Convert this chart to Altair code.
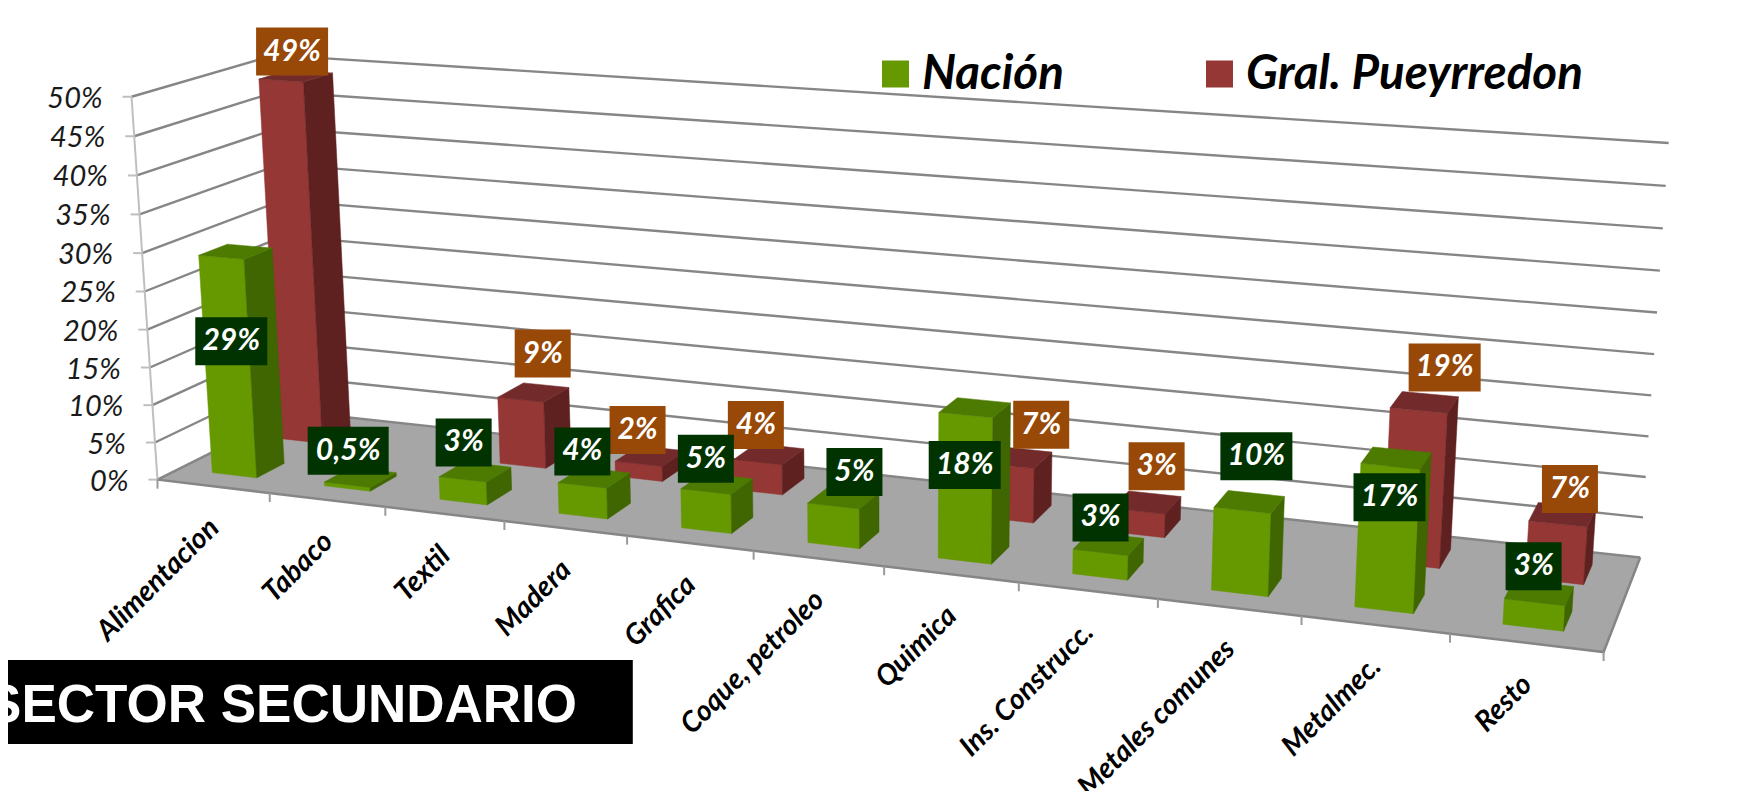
import altair as alt
import numpy as np
import pandas as pd

# ---------- data ----------
categories = ["Alimentacion", "Tabaco", "Textil", "Madera", "Grafica", "Coque, petroleo",
              "Quimica", "Ins. Construcc.", "Metales comunes", "Metalmec.", "Resto"]
nacion = [29, 0.5, 3, 4, 5, 5, 18, 3, 10, 17, 3]
nacion_text = ["29%", "0,5%", "3%", "4%", "5%", "5%", "18%", "3%", "10%", "17%", "3%"]
pueyrredon = [49, None, 9, 2, 4, None, 7, 3, None, 19, 7]
pueyrredon_text = ["49%", None, "9%", "2%", "4%", None, "7%", "3%", None, "19%", "7%"]
y_ticks = [0, 5, 10, 15, 20, 25, 30, 35, 40, 45, 50]

# ---------- layout (not data) ----------
W, H = 1734, 783
FONT = "Lato"
GREEN = ("#669900", "#3F6600", "#4D7A00")
RED = ("#953735", "#5E2120", "#722A2A")
ROWS = {"n": (0.15, 0.35), "p": (0.64, 0.86)}
BAR_U = (0.30, 0.70)
# label offsets from the top-front centre of each bar
n_off = [(10, 84), (1, -34), (1, -37), (0, -34), (0, -33), (21, -34), (-1, 50), (0, -35), (14, -54), (-1, 31), (-1, -36)]
p_off = [(11, -29), None, (22, -46), (-1, -34), (-2, -37), None, (33, -41), (18, -45), None, (26, -43), (12, -35)]

# camera calibration: (category position, depth, percent) -> picture position
calib = [
    ((0, 0, 0), (157.7, 479)), ((0, 0, 50), (131.7, 96)),
    ((0, 1, 0), (293.6, 412)), ((0, 1, 50), (274, 55.8)),
    ((11, 1, 0), (1640.5, 556)), ((11, 1, 50), (1668.7, 143)),
    ((11, 0, 0), (1603, 653)), ((5, 0, 0), (754, 552)),
    ((2, 0, 0), (385, 506)), ((8, 0, 0), (1158, 599)),
]
A, b = [], []
for (u, d, z), (px, py) in calib:
    A.append([u, d, z, 1, 0, 0, 0, 0, -px * u, -px * d, -px * z]); b.append(px)
    A.append([0, 0, 0, 0, u, d, z, 1, -py * u, -py * d, -py * z]); b.append(py)
P = np.linalg.lstsq(np.array(A, float), np.array(b, float), rcond=None)[0]


def proj(u, d, z):
    w = P[8] * u + P[9] * d + P[10] * z + 1
    return (float((P[0] * u + P[1] * d + P[2] * z + P[3]) / w),
            float((P[4] * u + P[5] * d + P[6] * z + P[7]) / w))


def poly_rows(pid, pts):
    return [{"pid": pid, "i": k, "px": proj(*p)[0], "py": proj(*p)[1]} for k, p in enumerate(pts)]


xs = alt.Scale(domain=[8, 8 + W], nice=False, zero=False)
ys = alt.Scale(domain=[8 + H, 8], nice=False, zero=False)
X = alt.X("px:Q", scale=xs, axis=None)
Y = alt.Y("py:Q", scale=ys, axis=None)


def polys(rows, color):
    return alt.Chart(pd.DataFrame(rows)).mark_line(
        interpolate="linear-closed", fill=color, stroke=color, strokeWidth=0.5, clip=True
    ).encode(x=X, y=Y, detail="pid:N", order="i:Q")


def bar_faces(values, row):
    d0, d1 = ROWS[row]
    front, side, top = [], [], []
    for i, v in enumerate(values):
        if v is None:
            continue
        u0, u1 = i + BAR_U[0], i + BAR_U[1]
        front += poly_rows(f"f{i}", [(u0, d0, 0), (u1, d0, 0), (u1, d0, v), (u0, d0, v)])
        side += poly_rows(f"s{i}", [(u1, d0, 0), (u1, d1, 0), (u1, d1, v), (u1, d0, v)])
        top += poly_rows(f"t{i}", [(u0, d0, v), (u1, d0, v), (u1, d1, v), (u0, d1, v)])
    return front, side, top


def label_rows(values, texts, offs, row):
    out = []
    d0 = ROWS[row][0]
    for i, (v, t, o) in enumerate(zip(values, texts, offs)):
        if v is None:
            continue
        ax, ay = proj(i + sum(BAR_U) / 2, d0, v)
        cx, cy = ax + o[0], ay + o[1]
        half = 40.5 if "," in t else (36 if len(t) == 3 else 28)
        out.append({"label": t, "px": cx, "py": cy, "px0": cx - half, "px1": cx + half,
                    "py0": cy - 24, "py1": cy + 24})
    return pd.DataFrame(out)


# floor
floor = polys(poly_rows("floor", [(0, 0, 0), (11, 0, 0), (11, 1, 0), (0, 1, 0)]), "#A6A6A6")

# gridlines on the two walls
grid_rows = []
for v in y_ticks:
    grid_rows += poly_rows(f"g{v}", [(0, 0, v), (0, 1, v), (11, 1, v)])
grid = alt.Chart(pd.DataFrame(grid_rows)).mark_line(color="#868686", strokeWidth=2.4).encode(
    x=X, y=Y, detail="pid:N", order="i:Q")

# front & right floor edges
edge_rows = poly_rows("e", [(0, 0, 0), (11, 0, 0), (11, 1, 0)])
edge = alt.Chart(pd.DataFrame(edge_rows)).mark_line(color="#868686", strokeWidth=2.5).encode(
    x=X, y=Y, detail="pid:N", order="i:Q")

# value axis line, ticks and labels
axis_rows = poly_rows("a", [(0, 0, 0), (0, 0, 50)])
axis_line = alt.Chart(pd.DataFrame(axis_rows)).mark_line(color="#BFBFBF", strokeWidth=2).encode(
    x=X, y=Y, detail="pid:N", order="i:Q")
tick_df = pd.DataFrame([{"px": proj(0, 0, v)[0], "py": proj(0, 0, v)[1], "px2": proj(0, 0, v)[0] - 9,
                         "label": f"{v}%"} for v in y_ticks])
y_tick_marks = alt.Chart(tick_df).mark_rule(color="#BFBFBF", strokeWidth=2).encode(
    x=X, x2="px2:Q", y=Y)
y_labels = alt.Chart(tick_df).mark_text(font=FONT, fontStyle="italic", fontSize=29, align="right",
                                        baseline="middle", color="#1A1A1A", dx=-29, dy=2).encode(
    x=X, y=Y, text="label:N")

# category ticks and labels
cat_tick_df = pd.DataFrame([{"px": proj(i, 0, 0)[0], "py": proj(i, 0, 0)[1], "py2": proj(i, 0, 0)[1] + 9}
                            for i in range(12)])
cat_ticks = alt.Chart(cat_tick_df).mark_rule(color="#9A9A9A", strokeWidth=2).encode(
    x=X, y=Y, y2="py2:Q")
cat_df = pd.DataFrame([{"px": proj(i + 0.5, 0, 0)[0] + 1, "py": proj(i + 0.5, 0, 0)[1] + 37, "label": c}
                       for i, c in enumerate(categories)])
cat_labels = alt.Chart(cat_df).mark_text(font=FONT, fontStyle="italic", fontWeight="bold", fontSize=28.5,
                                         angle=315, align="right", baseline="middle", color="#000000",
                                         clip=True).encode(x=X, y=Y, text="label:N")

layers = [floor, grid, axis_line, y_tick_marks, y_labels, edge, cat_ticks, cat_labels]

for vals, row, cols in ((pueyrredon, "p", RED), (nacion, "n", GREEN)):
    f, s, t = bar_faces(vals, row)
    layers += [polys(f, cols[0]), polys(s, cols[1]), polys(t, cols[2])]


def label_layers(df, bg):
    return [alt.Chart(df).mark_rect(color=bg).encode(x=alt.X("px0:Q", scale=xs, axis=None), x2="px1:Q",
                                                     y=alt.Y("py0:Q", scale=ys, axis=None), y2="py1:Q"),
            alt.Chart(df).mark_text(font=FONT, fontStyle="italic", fontWeight="bold", fontSize=30,
                                    color="white", align="center", baseline="middle").encode(
                x=X, y=Y, text="label:N")]


layers += label_layers(label_rows(pueyrredon, pueyrredon_text, p_off, "p"), "#984807")
layers += label_layers(label_rows(nacion, nacion_text, n_off, "n"), "#003300")

# legend
leg = pd.DataFrame({"label": ["Nación", "Gral. Pueyrredon"], "px0": [882, 1206], "px1": [909, 1233],
                    "py0": [60.5, 60.5], "py1": [87.5, 87.5], "px": [922, 1246], "py": [89, 89],
                    "c": [GREEN[0], RED[0]]})
leg_sq = alt.Chart(leg).mark_rect().encode(x=alt.X("px0:Q", scale=xs, axis=None), x2="px1:Q",
                                           y=alt.Y("py0:Q", scale=ys, axis=None), y2="py1:Q",
                                           color=alt.Color("c:N", scale=None))
leg_tx = alt.Chart(leg).mark_text(font=FONT, fontStyle="italic", fontWeight="bold", fontSize=47.5,
                                  align="left", baseline="alphabetic", color="black").encode(
    x=X, y=Y, text="label:N")

# section banner
ban = pd.DataFrame({"label": ["SECTOR SECUNDARIO"], "px0": [0], "px1": [632.8], "py0": [660], "py1": [744],
                    "px": [577], "py": [721.5]})
ban_r = alt.Chart(ban).mark_rect(color="black", clip=True).encode(
    x=alt.X("px0:Q", scale=xs, axis=None), x2="px1:Q", y=alt.Y("py0:Q", scale=ys, axis=None), y2="py1:Q")
ban_t = alt.Chart(ban).mark_text(font="Liberation Sans", fontWeight="bold", fontSize=53, color="white",
                                 align="right", baseline="alphabetic", clip=True).encode(x=X, y=Y, text="label:N")

layers += [leg_sq, leg_tx, ban_r, ban_t]

chart = alt.layer(*layers).properties(
    width=W, height=H, padding=0, autosize=alt.AutoSizeParams(type="none"), background="white"
).configure_view(stroke=None)

chart.save("out.html", embed_options={"renderer": "svg", "actions": False})
